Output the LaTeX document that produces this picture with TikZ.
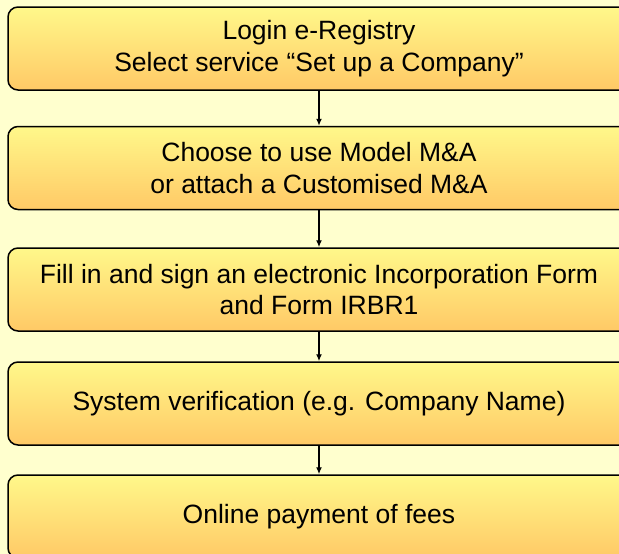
\documentclass[tikz,border=0pt]{standalone}
\usepackage{fontspec}
\setmainfont{Liberation Sans}
\usepackage{tikz}
\usetikzlibrary{arrows,arrows.meta,positioning,shapes}
\definecolor{paper}{RGB}{255,255,206}
\definecolor{boxtop}{RGB}{255,248,138}
\definecolor{boxbottom}{RGB}{255,201,102}

\begin{document}
\begin{tikzpicture}[x=1pt,y=-1pt,font=\fontsize{26.5}{31.6}\selectfont,stepbox/.style={draw,line width=1.5pt,rectangle,rounded corners=10pt,top color=boxtop,bottom color=boxbottom,minimum width=622pt,minimum height=83pt,align=center,inner sep=0pt},link/.style={-{Latex[length=7pt,width=6pt]},line width=1.3pt}]
	\fill[paper] (0,0) rectangle (619,554);
	\useasboundingbox (0,0) rectangle (619,554);
	\clip (0,0) rectangle (619,554);

	\node (login) at (319,48.5) [stepbox] {Login e-Registry\\Select service “Set up a Company”};
	\node (model) at (319,168) [stepbox] {Choose to use Model M\&A\\or attach a Customised M\&A};
	\node (form) at (319,289.5) [stepbox] {Fill in and sign an electronic Incorporation Form\\and Form IRBR1};
	\node (verify) at (319,403.5) [stepbox] {System verification (e.g. Company Name)};
	\node (payment) at (319,516.5) [stepbox] {Online payment of fees};

	\draw[link] (login) -- (model);
	\draw[link] (model) -- (form);
	\draw[link] (form) -- (verify);
	\draw[link] (verify) -- (payment);
\end{tikzpicture}
\end{document}
